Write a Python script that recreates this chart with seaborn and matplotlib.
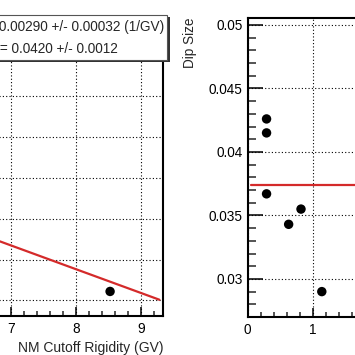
import matplotlib
matplotlib.use("Agg")
import matplotlib.pyplot as plt
import matplotlib.ticker as mticker
from matplotlib.patches import Rectangle
import seaborn as sns
import pandas as pd

# Left panel: dip size vs NM cutoff rigidity (only the visible part)
left_rigidity = [8.52]
left_dip = [0.0161]
left_slope = -0.00290
left_intercept = 0.0420
left_fit_range = [3.0, 9.28]
fit_text = ["Slope = -0.00290 +/- 0.00032 (1/GV)", "Intercept = 0.0420 +/- 0.0012"]

# Right panel: dip size vs (cut-off) x quantity
right_x = [0.29, 0.29, 0.29, 0.63, 0.82, 1.14]
right_dip = [0.0426, 0.0415, 0.0367, 0.0343, 0.0355, 0.0290]
right_slope = 0.0
right_intercept = 0.0374
right_fit_range = [0.05, 2.4]

sns.set_style("ticks")
plt.rcParams["font.family"] = ["Liberation Sans", "DejaVu Sans"]

W = 355.0
fig = plt.figure(figsize=(3.55, 3.55), dpi=100)

def px(x0, y0, x1, y1):
    # pixel box (top-left origin) -> figure fraction rect
    return [x0 / W, (W - y1) / W, (x1 - x0) / W, (y1 - y0) / W]

ax1 = fig.add_axes(px(163.3 - (9.34 - 3.0) * 64.9, 18, 163.3, 316))
ax2 = fig.add_axes(px(247.7, 18, 247.7 + 2.4 * 65, 317))

red = "#d42a2a"
fs = 9.8

def fit_df(slope, intercept, rng):
    return pd.DataFrame({"x": rng, "y": [intercept + slope * v for v in rng]})

# left
sns.lineplot(data=fit_df(left_slope, left_intercept, left_fit_range), x="x", y="y",
             ax=ax1, color=red, lw=1.6)
sns.scatterplot(x=left_rigidity, y=left_dip, ax=ax1, color="black", s=46, edgecolor="none")
ax1.set_xlim(3.0, 9.34)
ax1.set_ylim(0.0131, 0.0495)

# right
sns.lineplot(data=fit_df(right_slope, right_intercept, right_fit_range), x="x", y="y",
             ax=ax2, color=red, lw=1.6)
sns.scatterplot(x=right_x, y=right_dip, ax=ax2, color="black", s=46, edgecolor="none")
ax2.set_xlim(0, 2.4)
ax2.set_ylim(0.0270, 0.05055)

for ax in (ax1, ax2):
    ax.xaxis.set_major_locator(mticker.MultipleLocator(1))
    ax.xaxis.set_minor_locator(mticker.MultipleLocator(0.2))
    ax.yaxis.set_major_locator(mticker.MultipleLocator(0.005))
    ax.yaxis.set_minor_locator(mticker.MultipleLocator(0.001))
    ax.yaxis.set_major_formatter(mticker.FuncFormatter(lambda v, p: f"{v:g}"))
    ax.grid(True, which="major", color="black", linestyle=(0, (1, 2)), lw=0.8)
    for s in ax.spines.values():
        s.set_linewidth(1.5)
        s.set_color("black")
    ax.tick_params(axis="x", which="major", direction="in", length=6.5, width=1.1,
                   labelsize=fs, pad=4, colors="black")
    ax.tick_params(axis="x", which="minor", direction="in", length=3.6, width=1.1)
    ax.tick_params(axis="y", which="major", direction="in", length=10.8, width=1.1,
                   labelsize=fs, pad=3.5, colors="black")
    ax.tick_params(axis="y", which="minor", direction="in", length=5.8, width=1.1)
    ax.set_xlabel("")
    ax.set_ylabel("")

# fit result box
fig.patches.append(Rectangle(((-200 + 2) / W, (W - 62) / W), 368 / W, 45 / W,
                             transform=fig.transFigure, facecolor="#333333", edgecolor="none",
                             zorder=10))
fig.patches.append(Rectangle((-200 / W, (W - 60) / W), 367 / W, 45 / W,
                             transform=fig.transFigure, facecolor="white", edgecolor="#555555",
                             lw=0.8, zorder=11))
fig.text(164.5 / W, (W - 27) / W, fit_text[0], ha="right", va="center", fontsize=fs, zorder=12)
fig.text(117.5 / W, (W - 49) / W, fit_text[1], ha="right", va="center", fontsize=fs, zorder=12)

fig.text(163.3 / W, 3 / W, "NM Cutoff Rigidity (GV)", ha="right", va="baseline", fontsize=10)
fig.text(190 / W, (W - 18) / W, "Dip Size", ha="center", va="top", rotation=90, fontsize=fs)

fig.savefig("out.png", dpi=100)
